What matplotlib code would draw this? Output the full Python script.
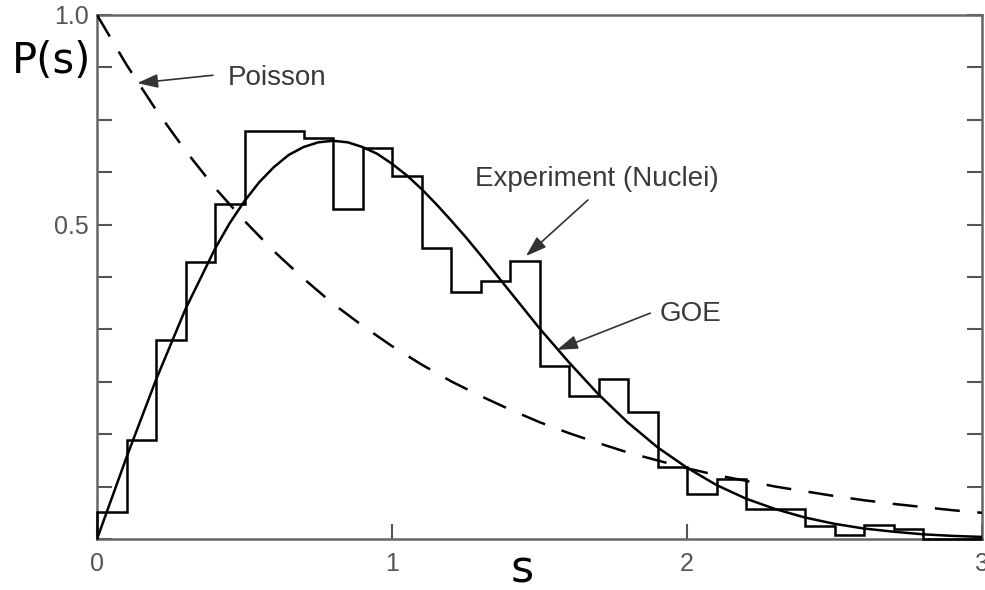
import numpy as np
import matplotlib
matplotlib.use("Agg")
import matplotlib.pyplot as plt

# histogram, bins of width 0.1 from s=0 to s=3
bin_edges = [round(0.1 * i, 1) for i in range(31)]
hist_vals = [0.052, 0.189, 0.380, 0.529, 0.639, 0.779, 0.779, 0.765, 0.630, 0.746,
             0.693, 0.556, 0.472, 0.493, 0.531, 0.330, 0.272, 0.305, 0.242, 0.137,
             0.086, 0.114, 0.057, 0.057, 0.024, 0.008, 0.026, 0.020, 0.0, 0.0]

# GOE curve (finer steps around the peak)
goe_s = [0.0, 0.1, 0.2, 0.3, 0.4, 0.45, 0.5, 0.55, 0.6, 0.65, 0.7, 0.75, 0.8, 0.85,
         0.9, 0.95, 1.0, 1.05, 1.1, 1.15, 1.2, 1.25, 1.3, 1.35, 1.4, 1.5, 1.6, 1.7,
         1.8, 1.9, 2.0, 2.1, 2.2, 2.3, 2.4, 2.5, 2.6, 2.7, 2.8, 2.9, 3.0]
goe_vals = [0.0, 0.156, 0.304, 0.439, 0.554, 0.603, 0.645, 0.681, 0.710, 0.733, 0.748,
            0.757, 0.760, 0.757, 0.748, 0.735, 0.716, 0.694, 0.668, 0.639, 0.608,
            0.576, 0.542, 0.507, 0.472, 0.402, 0.337, 0.276, 0.222, 0.175, 0.136,
            0.103, 0.077, 0.057, 0.041, 0.029, 0.020, 0.014, 0.009, 0.006, 0.004]

# Poisson curve at s = 0, 0.1, ... 3.0
poisson_s = [round(0.1 * i, 1) for i in range(31)]
poisson_vals = [1.0, 0.905, 0.819, 0.741, 0.670, 0.607, 0.549, 0.497, 0.449, 0.407,
                0.368, 0.333, 0.301, 0.273, 0.247, 0.223, 0.202, 0.183, 0.165, 0.150,
                0.135, 0.122, 0.111, 0.100, 0.091, 0.082, 0.074, 0.067, 0.061, 0.055, 0.050]

x_ticks = [0, 1, 2, 3]
x_labels = ["0", "1", "2", "3"]
y_ticks = [round(0.1 * i, 1) for i in range(11)]
y_labels = ["", "", "", "", "", "", "0.5", "", "", "", "1.0"]

plt.rcParams['font.family'] = ['Liberation Sans', 'DejaVu Sans']

fig = plt.figure(figsize=(9.85, 5.9), dpi=100)
ax = fig.add_axes([0.0985, 0.0864, 0.8985, 0.8882])

ax.stairs(hist_vals, bin_edges, color='black', lw=1.8, zorder=3, clip_on=False)
ax.plot(goe_s, goe_vals, color='black', lw=1.8, zorder=3, solid_joinstyle='round')
ax.plot(poisson_s, poisson_vals, color='black', lw=1.8, ls=(0, (10, 7)), zorder=3)

ax.set_xlim(0, 3)
ax.set_ylim(0, 1.0)
ax.set_xticks(x_ticks)
ax.set_xticklabels(x_labels)
ax.set_yticks(y_ticks)
ax.set_yticklabels(y_labels)
ax.tick_params(direction='in', length=11, width=1.5, color='#555555',
               labelsize=18, labelcolor='#555555', right=True, top=False)
ax.tick_params(axis='x', pad=9)
ax.tick_params(axis='y', pad=6)
for sp in ax.spines.values():
    sp.set_color('#666666')
    sp.set_linewidth(1.8)

arrow = dict(arrowstyle='-|>,head_length=0.9,head_width=0.3', color='#333333',
             lw=1.2, mutation_scale=14, shrinkA=0, shrinkB=0)
ax.annotate('', xy=(0.136, 0.870), xytext=(0.393, 0.885), arrowprops=arrow)
ax.annotate('', xy=(1.454, 0.540), xytext=(1.664, 0.647), arrowprops=arrow)
ax.annotate('', xy=(1.559, 0.361), xytext=(1.875, 0.431), arrowprops=arrow)

txt = dict(fontsize=20, color='#3a3a3a', ha='left', va='baseline')
ax.text(0.444, 0.866, 'Poisson', **txt)
ax.text(1.281, 0.674, 'Experiment (Nuclei)', **txt)
ax.text(1.908, 0.416, 'GOE', **txt)

fig.text(0.0122, 1 - 61 / 590, 'P(s)', fontsize=30, family='DejaVu Sans',
         ha='left', va='center', color='black')
fig.text(0.530, 0.012, 's', fontsize=32, family='DejaVu Sans',
         ha='center', va='baseline', color='black')

fig.savefig('out.png', dpi=100, facecolor='white')
